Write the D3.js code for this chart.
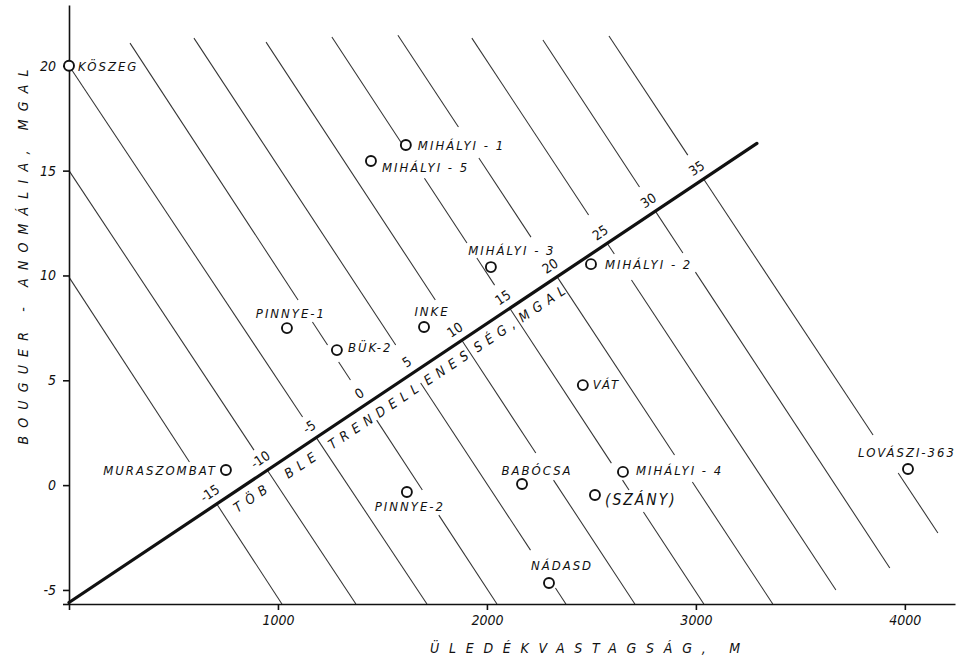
<!DOCTYPE html>
<html><head><meta charset="utf-8">
<script src="https://cdn.jsdelivr.net/npm/d3@7/dist/d3.min.js"></script>
<style>
body{margin:0;background:#fff;}
svg{display:block;background:#fff;}
text{font-family:'DejaVu Sans Condensed','DejaVu Sans',sans-serif;font-stretch:condensed;fill:#111;}
</style></head><body>
<svg id="chart" width="956" height="658"></svg>
<script>
// ---------------- data ----------------
const xDomain = [0, 4240];
const yDomain = [-5.67, 22.9];
const xTicks = [0, 1000, 2000, 3000, 4000];
const xTickLabels = ["", "1000", "2000", "3000", "4000"];
const yTicks = [-5.67, -5, 0, 5, 10, 15, 20];
const yTickLabels = ["", "-5", "0", "5", "10", "15", "20"];

const stationNames = ["KÖSZEG","MIHÁLYI - 1","MIHÁLYI - 5","MIHÁLYI - 3","MIHÁLYI - 2","PINNYE-1","INKE","BÜK-2","VÁT","MURASZOMBAT","LOVÁSZI-363","MIHÁLYI - 4","BABÓCSA","(SZÁNY)","NÁDASD","PINNYE-2"];
const stationDepth   = [0, 1612, 1445, 2019, 2498, 1043, 1699, 1282, 2459, 751, 4015, 2651, 2168, 2517, 2297, 1617];
const stationAnomaly = [20, 16.22, 15.46, 10.40, 10.54, 7.49, 7.54, 6.44, 4.77, 0.72, 0.77, 0.63, 0.05, -0.47, -4.67, -0.33];

const contourValues = [-15, -10, -5, 0, 5, 10, 15, 20, 25, 30, 35];
const contourTop = [[0,9.92],[0,15.0],[0,20],[292,21.08],[598,21.32],[943,21.13],[1258,21.37],[1574,21.46],[1928,21.32],[2268,21.23],[2584,21.42]];
const contourBottom = [[1019,-5.67],[1373,-5.67],[1713,-5.67],[2048,-5.67],[2378,-5.67],[2708,-5.67],[3038,-5.67],[3368,-5.67],[3670,-5.0],[3928,-3.95],[4158,-2.28]];
const contourGaps = [
  [[1.10,-0.90]],
  [[1.67,0.72]],
  [[3.25,2.29]],
  [[8.83,7.78],[6.68,5.87],[5.01,3.10],[-0.23,-1.43]],
  [[6.68,4.87],[-3.10,-4.91]],
  [[8.83,6.87],[1.53,0.24]],
  [[15.98,14.64],[11.55,10.83],[9.54,8.45],[1.05,0.24],[-0.23,-1.28]],
  [[17.08,15.60],[11.83,9.97],[1.44,0.15]],
  [[12.88,11.55],[11.02,9.78]],
  [[14.22,13.07],[11.07,10.16]],
  [[15.74,14.60],[2.39,0.58]]
];

const trendStart = [0, -5.6];
const trendEnd = [3292, 16.3];
const trendWords = ["TÖB","BLE","TRENDELL","ENES","SÉG,","MGAL"];
const trendWordFrom = [-15,-10,-5,5,10,15];
const trendWordTo = [-10,-5,5,10,15,20];

const axisTitleY = "BOUGUER - ANOMÁLIA,  MGAL";
const axisTitleX = "ÜLEDÉKVASTAGSÁG,  M";

// ---------------- layout ----------------
const labelPlace = {
  "KÖSZEG":["start",9,5], "MIHÁLYI - 1":["start",12,5], "MIHÁLYI - 5":["start",11,11],
  "MIHÁLYI - 3":["middle",21,-12], "MIHÁLYI - 2":["start",14,5], "PINNYE-1":["middle",4,-10],
  "INKE":["middle",8,-11], "BÜK-2":["start",11,2], "VÁT":["start",10,4],
  "MURASZOMBAT":["end",-9,5], "LOVÁSZI-363":["middle",-1,-12], "MIHÁLYI - 4":["start",13,3],
  "BABÓCSA":["middle",15,-9], "(SZÁNY)":["start",10,10], "NÁDASD":["middle",13,-13],
  "PINNYE-2":["middle",3,19]
};

const svg = d3.select("#chart");
const x = d3.scaleLinear().domain(xDomain).range([69, 955]);
const y = d3.scaleLinear().domain(yDomain).range([604, 5]);
const P = d => [x(d[0]), y(d[1])];

function intersect(p1,p2,p3,p4){
  const d = (p1[0]-p2[0])*(p3[1]-p4[1]) - (p1[1]-p2[1])*(p3[0]-p4[0]);
  const t = ((p1[0]-p3[0])*(p3[1]-p4[1]) - (p1[1]-p3[1])*(p3[0]-p4[0]))/d;
  return [p1[0]+t*(p2[0]-p1[0]), p1[1]+t*(p2[1]-p1[1])];
}

const tA = P(trendStart), tB = P(trendEnd);
const tLen = Math.hypot(tB[0]-tA[0], tB[1]-tA[1]);
const dir = [(tB[0]-tA[0])/tLen, (tB[1]-tA[1])/tLen];
const nrm = [-dir[1], dir[0]];
const angle = Math.atan2(dir[1], dir[0]) * 180 / Math.PI;

// contour lines
const gC = svg.append("g").attr("stroke","#333").attr("stroke-width",1.05).attr("fill","none");
const inter = {};
contourValues.forEach((c,i)=>{
  const [x0,y0] = contourTop[i], [x1,y1] = contourBottom[i];
  const xAt = yy => x0 + (x1-x0)*(yy-y0)/(y1-y0);
  const gaps = contourGaps[i].slice().sort((a,b)=>b[0]-a[0]);
  let cur = y0; const segs = [];
  gaps.forEach(([hi,lo])=>{ if(hi<cur) segs.push([cur,hi]); cur = Math.min(cur,lo); });
  if(cur>y1) segs.push([cur,y1]);
  segs.forEach(([a,b])=>{
    gC.append("line").attr("x1",x(xAt(a))).attr("y1",y(a)).attr("x2",x(xAt(b))).attr("y2",y(b));
  });
  const ip = intersect(P(contourTop[i]), P(contourBottom[i]), tA, tB);
  inter[c] = ip;
  const pT = P(contourTop[i]), pB = P(contourBottom[i]);
  const L = Math.hypot(pT[0]-pB[0], pT[1]-pB[1]);
  const u = [(pT[0]-pB[0])/L, (pT[1]-pB[1])/L];
  const lp = [ip[0]+u[0]*13, ip[1]+u[1]*13];
  svg.append("text").attr("x",0).attr("y",0)
    .attr("transform",`translate(${lp[0]},${lp[1]}) rotate(${angle})`)
    .attr("text-anchor","middle").attr("dominant-baseline","central")
    .attr("font-size",13.5).text(c);
});

// axes
const xAxis = d3.axisBottom(x).tickValues(xTicks).tickSize(6).tickSizeOuter(0).tickPadding(5)
  .tickFormat((d,i)=>xTickLabels[i]);
const yAxis = d3.axisLeft(y).tickValues(yTicks).tickSize(6).tickSizeOuter(0).tickPadding(7)
  .tickFormat((d,i)=>yTickLabels[i]);
const gx = svg.append("g").attr("transform","translate(0,604)").call(xAxis);
const gy = svg.append("g").attr("transform","translate(69,0)").call(yAxis);
[gx,gy].forEach(g=>{
  g.attr("font-family",null).attr("font-size",null);
  g.selectAll("path,line").attr("stroke","#111").attr("stroke-width",1.6);
  g.selectAll("text").attr("font-size",14).attr("font-style","italic").attr("fill","#111");
});

// trend (thick) line
svg.append("line").attr("x1",tA[0]).attr("y1",tA[1]).attr("x2",tB[0]).attr("y2",tB[1])
  .attr("stroke","#111").attr("stroke-width",3.2).attr("stroke-linecap","round");

// text under trend line
trendWords.forEach((w,i)=>{
  const a = inter[trendWordFrom[i]], b = inter[trendWordTo[i]];
  const m = [(a[0]+b[0])/2 + nrm[0]*14, (a[1]+b[1])/2 + nrm[1]*14];
  svg.append("text").attr("x",0).attr("y",0).attr("dx",3.5)
    .attr("transform",`translate(${m[0]},${m[1]}) rotate(${angle})`)
    .attr("text-anchor","middle").attr("dominant-baseline","central")
    .attr("font-size",13.5).attr("font-style","italic").attr("letter-spacing",6).text(w);
});

// stations
const gS = svg.append("g");
stationNames.forEach((n,i)=>{
  const px = x(stationDepth[i]), py = y(stationAnomaly[i]);
  const pl = labelPlace[n];
  gS.append("text").attr("x",px+pl[1]).attr("y",py+pl[2])
    .attr("text-anchor",pl[0]).attr("font-size", n==="(SZÁNY)"?15.5:13)
    .attr("font-style","italic").attr("letter-spacing",2)
    .attr("stroke","#fff").attr("stroke-width",4).attr("paint-order","stroke")
    .text(n);
  gS.append("circle").attr("cx",px).attr("cy",py).attr("r",5)
    .attr("fill","#fff").attr("stroke","#111").attr("stroke-width",1.9);
});

// axis titles
svg.append("text").attr("transform","translate(23,257) rotate(-90)")
  .attr("text-anchor","middle").attr("dominant-baseline","central")
  .attr("font-size",14).attr("font-style","italic")
  .attr("textLength",375).attr("lengthAdjust","spacing").text(axisTitleY);
svg.append("text").attr("x",585).attr("y",653)
  .attr("text-anchor","middle").attr("font-size",14).attr("font-style","italic")
  .attr("textLength",310).attr("lengthAdjust","spacing").text(axisTitleX);
</script>
</body></html>
